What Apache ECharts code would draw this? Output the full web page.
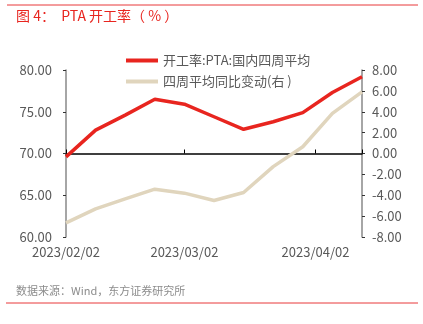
<!DOCTYPE html>
<html><head><meta charset="utf-8">
<script src="https://cdn.jsdelivr.net/npm/echarts@6/dist/echarts.min.js"></script>
<style>html,body{margin:0;padding:0;background:#fff}#c{width:423px;height:324px}</style>
</head><body><div id="c"></div>
<script>
const dates = ['2023-02-02','2023-02-09','2023-02-16','2023-02-23','2023-03-02','2023-03-09','2023-03-16','2023-03-23','2023-03-30','2023-04-06','2023-04-13'];
const rateValues = [69.6, 72.8, 74.6, 76.5, 75.9, 74.4, 72.9, 73.8, 74.9, 77.3, 79.2];
const yoyValues = [-6.65, -5.3, -4.35, -3.42, -3.8, -4.5, -3.74, -1.26, 0.65, 3.84, 5.9];
const xTickLabels = ['2023-02-02','2023-03-02','2023-04-02'];
const seriesNames = ['开工率:PTA:国内四周平均','四周平均同比变动(右 )'];
const font = '"Noto Sans CJK SC", "Liberation Sans", sans-serif';
const toTime = d => Date.UTC(+d.slice(0,4), +d.slice(5,7)-1, +d.slice(8,10));
const tickTimes = xTickLabels.map(toTime);
const fmtDate = v => { const d = new Date(v); const p = n => String(n).padStart(2,'0'); return d.getUTCFullYear() + '/' + p(d.getUTCMonth()+1) + '/' + p(d.getUTCDate()); };
const chart = echarts.init(document.getElementById('c'), null, {renderer:'canvas'});
const xMin = toTime(dates[0]);
const xMax = toTime(dates[dates.length-1]);
chart.setOption({
  animation:false,
  textStyle:{fontFamily:font},
  graphic:[
    {type:'line', shape:{x1:7,y1:5,x2:418,y2:5}, style:{stroke:'#e8393a', lineWidth:1}},
    {type:'text', left:16, top:9, style:{text:'图 4：  PTA 开工率（ % ）', fill:'#e8251f', font:'14px ' + font}},
    {type:'text', left:16, top:285, style:{text:'数据来源：Wind，东方证券研究所', fill:'#8c8c8c', font:'11px ' + font}},
    {type:'line', shape:{x1:6,y1:303,x2:418,y2:303}, style:{stroke:'#e8393a', lineWidth:1}}
  ],
  legend:{
    orient:'vertical', left:121, top:49, itemGap:8, itemWidth:32, itemHeight:4,
    icon:'rect',
    textStyle:{color:'#595959', fontSize:13, fontFamily:font},
    data:seriesNames
  },
  grid:{left:66, right:61, top:70, bottom:87},
  xAxis:{
    type:'value', min:xMin, max:xMax,
    axisLine:{lineStyle:{color:'#000', width:1.5}},
    axisTick:{show:true, inside:true, length:4, lineStyle:{color:'#000'}, customValues: tickTimes.concat([xMax])},
    axisLabel:{color:'#595959', fontSize:13, fontFamily:font, formatter:v=>fmtDate(v), margin:9, customValues: tickTimes},
    splitLine:{show:false}
  },
  yAxis:[
    {type:'value', min:60, max:80, interval:5, position:'left',
     axisLine:{show:true, lineStyle:{color:'#888', width:1.5}},
     axisTick:{show:true, length:3, lineStyle:{color:'#333'}},
     axisLabel:{color:'#595959', fontSize:13, fontFamily:font, formatter:v=>v.toFixed(2), margin:14},
     splitLine:{show:false}},
    {type:'value', min:-8, max:8, interval:2, position:'right',
     axisLine:{show:true, lineStyle:{color:'#888', width:1.5}},
     axisTick:{show:true, length:3, lineStyle:{color:'#333'}},
     axisLabel:{color:'#595959', fontSize:13, fontFamily:font, formatter:v=>v.toFixed(2), margin:10},
     splitLine:{show:false}}
  ],
  series:[
    {name:seriesNames[0], type:'line', yAxisIndex:0, showSymbol:false, symbol:'none',
     lineStyle:{color:'#e8251f', width:3.5}, itemStyle:{color:'#e8251f'},
     data:dates.map((d,i)=>[toTime(d), rateValues[i]])},
    {name:seriesNames[1], type:'line', yAxisIndex:1, showSymbol:false, symbol:'none',
     lineStyle:{color:'#e0d5bd', width:3.5}, itemStyle:{color:'#e0d5bd'},
     data:dates.map((d,i)=>[toTime(d), yoyValues[i]])}
  ]
});
</script></body></html>
